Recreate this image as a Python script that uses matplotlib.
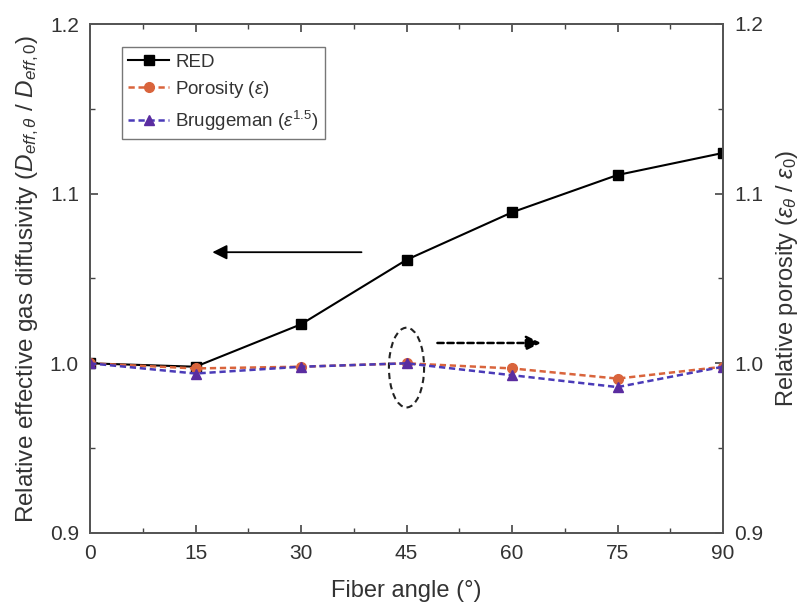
import matplotlib.pyplot as plt
from matplotlib.patches import Ellipse
from matplotlib.ticker import MultipleLocator

plt.rcParams['font.family'] = ['Liberation Sans', 'DejaVu Sans']
plt.rcParams['mathtext.fontset'] = 'custom'
plt.rcParams['mathtext.rm'] = 'Liberation Sans'
plt.rcParams['mathtext.it'] = 'Liberation Sans:italic'

angle = [0, 15, 30, 45, 60, 75, 90]
red = [1.000, 0.998, 1.023, 1.061, 1.089, 1.111, 1.124]
porosity = [1.000, 0.997, 0.998, 1.000, 0.997, 0.991, 0.998]
bruggeman = [1.000, 0.994, 0.998, 1.000, 0.993, 0.986, 0.998]

txt = '#333333'
fig = plt.figure(figsize=(8.09, 6.11), dpi=100)
ax1 = fig.add_axes([90 / 809, 78 / 611, 633 / 809, 509 / 611])

l1, = ax1.plot(angle, red, color='black', lw=1.5, marker='s', ms=6.5, label='RED')
ax1.set_xlim(0, 90)
ax1.set_ylim(0.9, 1.2)
ax1.set_xticks(angle)
ax1.set_yticks([0.9, 1.0, 1.1, 1.2])
ax1.set_yticklabels(['0.9', '1.0', '1.1', '1.2'])
ax1.xaxis.set_minor_locator(MultipleLocator(7.5))
ax1.yaxis.set_minor_locator(MultipleLocator(0.05))
ax1.tick_params(which='both', direction='in', top=True, labelsize=15, colors='#444444', labelcolor=txt)
ax1.tick_params(which='major', length=6, width=1.2, pad=8)
ax1.tick_params(which='minor', length=3.5, width=1.0)
ax1.set_xlabel('Fiber angle (°)', fontsize=17, color=txt, labelpad=12)
ax1.set_ylabel(r'Relative effective gas diffusivity ($D_{eff,\theta}$ / $D_{eff,0}$)',
               fontsize=17.5, color=txt, labelpad=6)

ax2 = ax1.twinx()
l2, = ax2.plot(angle, porosity, color='#d9643c', lw=1.8, ls=(0, (2.5, 1.5)), marker='o', ms=7,
               label=r'Porosity ($\varepsilon$)')
l3, = ax2.plot(angle, bruggeman, color='#4a3bb8', lw=1.8, ls=(0, (2.5, 1.5)), marker='^', ms=7,
               mfc='#5a2ca0', mec='#5a2ca0', label=r'Bruggeman ($\varepsilon^{1.5}$)')
ax2.set_ylim(0.9, 1.2)
ax2.set_yticks([0.9, 1.0, 1.1, 1.2])
ax2.set_yticklabels(['0.9', '1.0', '1.1', '1.2'])
ax2.yaxis.set_minor_locator(MultipleLocator(0.05))
ax2.tick_params(which='both', direction='in', labelsize=15, colors='#444444', labelcolor=txt)
ax2.tick_params(which='major', length=6, width=1.2, pad=8)
ax2.tick_params(which='minor', length=3.5, width=1.0)
ax2.set_ylabel(r'Relative porosity ($\varepsilon_{\theta}$ / $\varepsilon_0$)',
               fontsize=17, color=txt, labelpad=8)

for a in (ax1, ax2):
    for s in a.spines.values():
        s.set_color('#555555')
        s.set_linewidth(1.3)

# annotation arrows and the ellipse around the 45 degree points
ax2.annotate('', xy=(17, 1.0655), xytext=(39, 1.0655),
             arrowprops=dict(arrowstyle='-|>', color='black', lw=1.3, mutation_scale=22))
ax2.annotate('', xy=(64.5, 1.012), xytext=(49, 1.012),
             arrowprops=dict(arrowstyle='-|>', color='black', lw=1.8, ls=(0, (2.5, 1.5)),
                             mutation_scale=22))
ax2.add_patch(Ellipse((45, 0.9975), 5, 0.047, fill=False, ec='#222222', lw=1.5, ls=(0, (3, 2))))

leg = ax1.legend(handles=[l1, l2, l3], loc='upper left', bbox_to_anchor=(0.05, 0.955),
                 fontsize=13.5, frameon=True, fancybox=False, edgecolor='#555555',
                 handlelength=2.2, handletextpad=0.3, borderpad=0.35, labelspacing=0.45,
                 borderaxespad=0)
for t in leg.get_texts():
    t.set_color(txt)

fig.savefig('out.png', dpi=100)
